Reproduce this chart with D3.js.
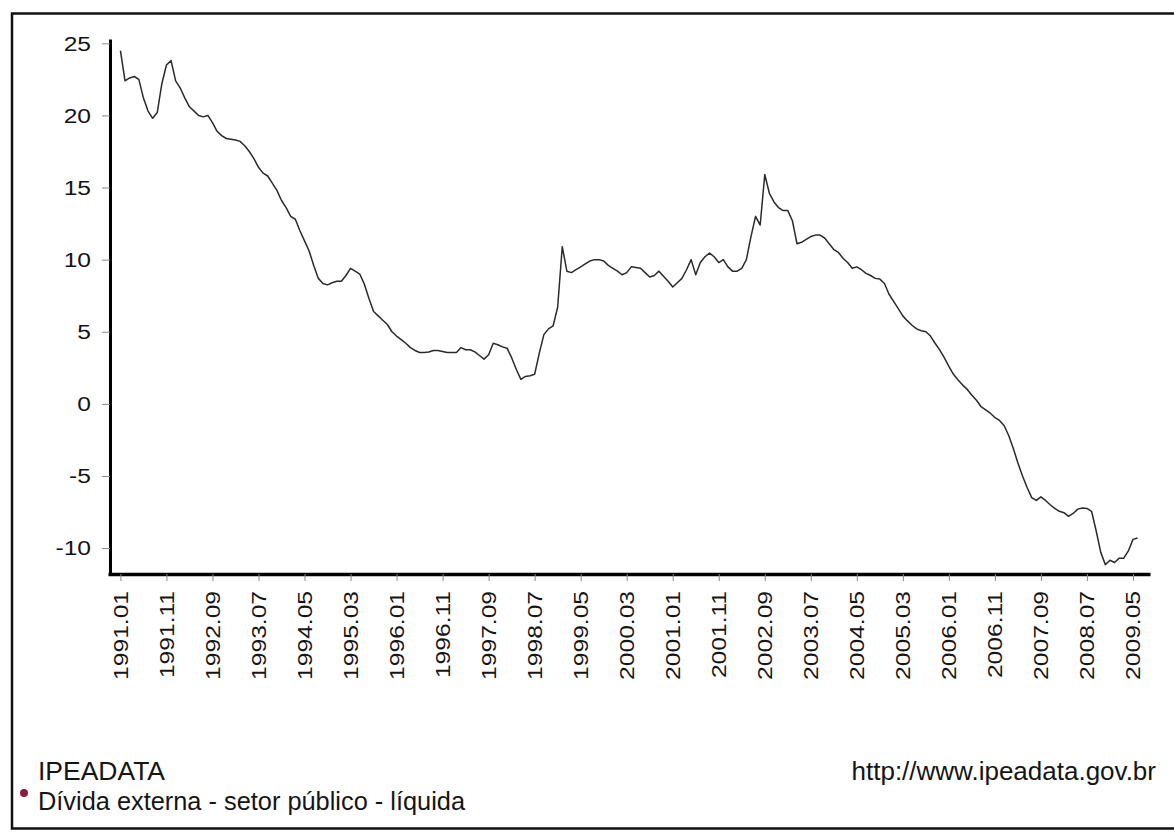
<!DOCTYPE html>
<html>
<head>
<meta charset="utf-8">
<script src="https://cdn.jsdelivr.net/npm/d3@7"></script>
<style>
  html, body { margin: 0; padding: 0; background: #ffffff; }
  svg { display: block; }
  text { font-family: "Liberation Sans", Arial, sans-serif; fill: #151515; }
</style>
</head>
<body>
<svg id="chart" width="1174" height="840"></svg>
<script>
// Monthly series, 1991.01 .. 2009.06
const v1991 = [24.5, 22.4, 22.6, 22.7, 22.5, 21.2, 20.3, 19.8, 20.2, 22.2, 23.5, 23.8];
const v1992 = [22.4, 21.9, 21.2, 20.6, 20.3, 20.0, 19.9, 20.0, 19.5, 18.9, 18.6, 18.4];
const v1993 = [18.35, 18.3, 18.2, 17.9, 17.5, 17.0, 16.4, 16.0, 15.8, 15.3, 14.8, 14.1];
const v1994 = [13.6, 13.0, 12.8, 12.0, 11.3, 10.6, 9.6, 8.7, 8.35, 8.25, 8.4, 8.5];
const v1995 = [8.5, 8.9, 9.4, 9.2, 9.0, 8.3, 7.3, 6.4, 6.1, 5.8, 5.5, 5.0];
const v1996 = [4.7, 4.45, 4.2, 3.9, 3.7, 3.56, 3.56, 3.6, 3.7, 3.7, 3.63, 3.56];
const v1997 = [3.56, 3.56, 3.9, 3.75, 3.75, 3.6, 3.35, 3.1, 3.4, 4.2, 4.1, 3.95];
const v1998 = [3.86, 3.2, 2.4, 1.7, 1.9, 1.95, 2.05, 3.5, 4.8, 5.2, 5.4, 6.7];
const v1999 = [10.9, 9.2, 9.1, 9.3, 9.5, 9.7, 9.9, 10.0, 10.0, 9.9, 9.6, 9.4];
const v2000 = [9.2, 8.95, 9.1, 9.5, 9.45, 9.4, 9.1, 8.8, 8.9, 9.2, 8.85, 8.5];
const v2001 = [8.1, 8.4, 8.7, 9.3, 10.0, 8.95, 9.8, 10.2, 10.45, 10.2, 9.8, 10.0];
const v2002 = [9.5, 9.2, 9.2, 9.4, 10.0, 11.6, 13.0, 12.4, 15.9, 14.6, 14.0, 13.6];
const v2003 = [13.4, 13.4, 12.7, 11.1, 11.2, 11.4, 11.6, 11.7, 11.7, 11.5, 11.1, 10.7];
const v2004 = [10.5, 10.1, 9.8, 9.4, 9.5, 9.3, 9.05, 8.9, 8.7, 8.65, 8.35, 7.6];
const v2005 = [7.1, 6.6, 6.1, 5.75, 5.45, 5.2, 5.07, 5.0, 4.7, 4.2, 3.74, 3.2];
const v2006 = [2.6, 2.05, 1.65, 1.3, 1.0, 0.6, 0.25, -0.2, -0.42, -0.65, -0.95, -1.15];
const v2007 = [-1.5, -2.2, -3.1, -4.1, -5.0, -5.8, -6.5, -6.7, -6.45, -6.7, -7.0, -7.25];
const v2008 = [-7.45, -7.55, -7.8, -7.6, -7.3, -7.23, -7.25, -7.45, -8.8, -10.3, -11.15, -10.85];
const v2009 = [-11.0, -10.7, -10.7, -10.2, -9.4, -9.3];

const startYear = 1991;
const yearly = [v1991, v1992, v1993, v1994, v1995, v1996, v1997, v1998, v1999, v2000,
                v2001, v2002, v2003, v2004, v2005, v2006, v2007, v2008, v2009];

const xTickLabels = ["1991.01", "1991.11", "1992.09", "1993.07", "1994.05", "1995.03",
  "1996.01", "1996.11", "1997.09", "1998.07", "1999.05", "2000.03", "2001.01", "2001.11",
  "2002.09", "2003.07", "2004.05", "2005.03", "2006.01", "2006.11", "2007.09", "2008.07",
  "2009.05"];
const yTickValues = [25, 20, 15, 10, 5, 0, -5, -10];

const sourceTitle = "IPEADATA";
const seriesName = "Dívida externa - setor público - líquida";
const sourceUrl = "http://www.ipeadata.gov.br";

// Build month-indexed table
const data = [];
yearly.forEach((arr, yi) => arr.forEach((v, mi) => data.push({ i: yi * 12 + mi, v: v })));
const n = data.length;
const labelIndex = s => (parseInt(s.slice(0, 4)) - startYear) * 12 + (parseInt(s.slice(5)) - 1);

const svg = d3.select("#chart");

// outer frame
svg.append("rect")
  .attr("x", 12).attr("y", 13.5).attr("width", 1170).attr("height", 815)
  .attr("fill", "none").attr("stroke", "#111").attr("stroke-width", 2.5);

const pad = 2.7;
const x = d3.scaleLinear().domain([-pad, n - 1 + pad]).range([108, 1150]);
const y = d3.scaleLinear().domain([-11.8, 25.3]).range([574, 39]);

// y axis
const yAxis = svg.append("g").attr("transform", "translate(110,0)")
  .call(d3.axisLeft(y).tickValues(yTickValues).tickSize(8).tickSizeOuter(0).tickFormat(""));
yAxis.select(".domain").attr("stroke", "#000").attr("stroke-width", 3);
yAxis.selectAll(".tick line").attr("stroke", "#888").attr("stroke-width", 1);

svg.append("g").selectAll("text").data(yTickValues).join("text")
  .attr("transform", d => `translate(91,${y(d)}) scale(1.23,1)`)
  .attr("text-anchor", "end").attr("dy", "0.36em")
  .style("font-size", "20px")
  .text(d => d);

// x axis
const xAxis = svg.append("g").attr("transform", "translate(0,574)")
  .call(d3.axisBottom(x).tickValues(xTickLabels.map(labelIndex)).tickSize(7).tickSizeOuter(0).tickFormat(""));
xAxis.select(".domain").attr("stroke", "#000").attr("stroke-width", 3.5);
xAxis.selectAll(".tick line").attr("stroke", "#888").attr("stroke-width", 1);

svg.append("g").selectAll("text").data(xTickLabels).join("text")
  .attr("transform", d => `translate(${x(labelIndex(d))},591) rotate(-90) scale(1.23,1)`)
  .attr("text-anchor", "end").attr("dy", "0.36em")
  .style("font-size", "20px")
  .text(d => d);

// series line
const line = d3.line().x(d => x(d.i)).y(d => y(d.v));
svg.append("path").datum(data)
  .attr("d", line)
  .attr("fill", "none").attr("stroke", "#2a2a2a").attr("stroke-width", 1.5)
  .attr("stroke-linejoin", "round");

// footer / legend
svg.append("text").attr("x", 38).attr("y", 780)
  .style("font-size", "26px").attr("textLength", 127).attr("lengthAdjust", "spacingAndGlyphs")
  .text(sourceTitle);
svg.append("circle").attr("cx", 24).attr("cy", 793).attr("r", 4).attr("fill", "#8e1b3d");
svg.append("text").attr("x", 38).attr("y", 810)
  .style("font-size", "26px").attr("textLength", 427).attr("lengthAdjust", "spacingAndGlyphs")
  .text(seriesName);
svg.append("text").attr("x", 1156).attr("y", 780).attr("text-anchor", "end")
  .style("font-size", "26px")
  .text(sourceUrl);
</script>
</body>
</html>
